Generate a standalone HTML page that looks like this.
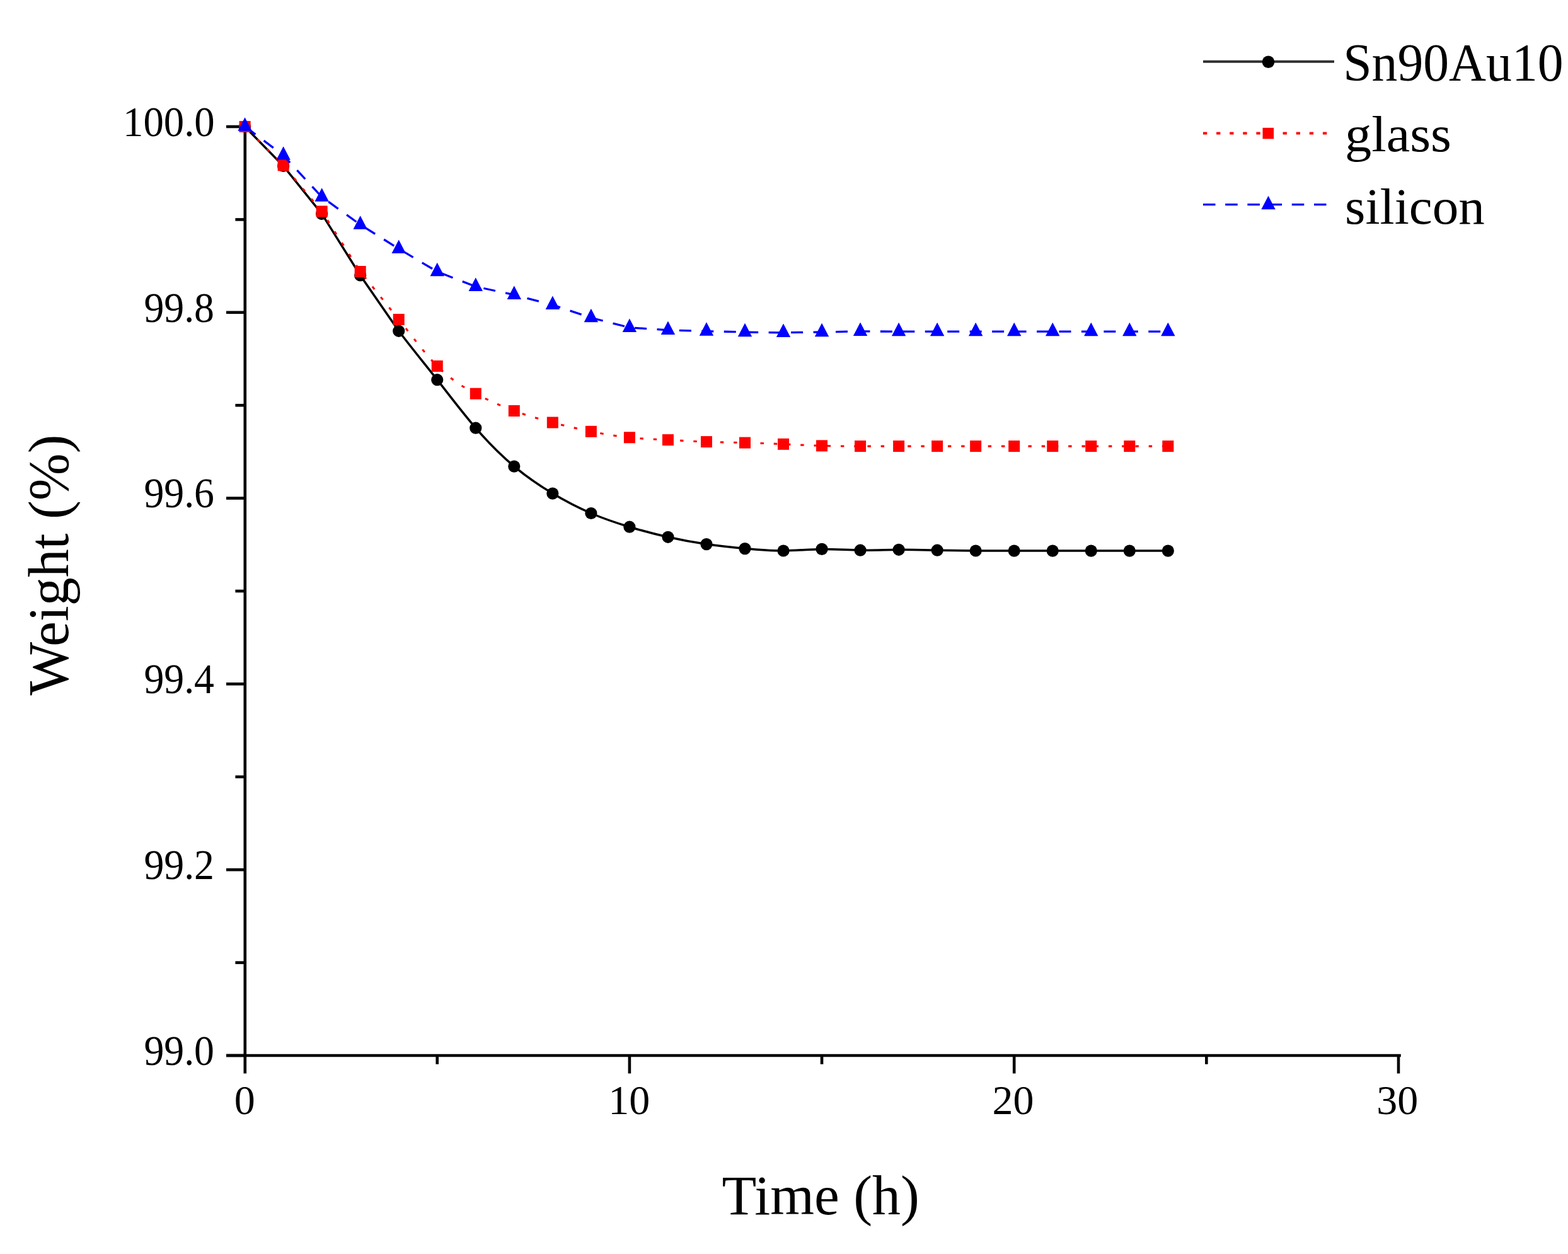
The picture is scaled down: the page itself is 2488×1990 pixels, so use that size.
<!DOCTYPE html>
<html><head><meta charset="utf-8"><title>Weight vs Time</title><style>html,body{margin:0;padding:0;background:#fff;}svg{display:block;}</style></head><body>
<svg width="2488" height="1990" viewBox="0 0 2488 1990">
<rect width="2488" height="1990" fill="#fff"/>
<g stroke="#000" stroke-width="4.6" fill="none" stroke-linecap="butt">
<path d="M388.8,198.7 V1703.5"/>
<path d="M359,1675.0 H2222.8"/>
<path d="M359,201.00 H388.8"/>
<path d="M359,495.80 H388.8"/>
<path d="M359,790.60 H388.8"/>
<path d="M359,1085.40 H388.8"/>
<path d="M359,1380.20 H388.8"/>
<path d="M359,1675.00 H388.8"/>
<path d="M373.4,348.40 H388.8"/>
<path d="M373.4,643.20 H388.8"/>
<path d="M373.4,938.00 H388.8"/>
<path d="M373.4,1232.80 H388.8"/>
<path d="M373.4,1527.60 H388.8"/>
<path d="M998.90,1675.0 V1703.5"/>
<path d="M1609.20,1675.0 V1703.5"/>
<path d="M2219.00,1675.0 V1703.5"/>
<path d="M693.75,1675.0 V1688.8"/>
<path d="M1304.05,1675.0 V1688.8"/>
<path d="M1914.35,1675.0 V1688.8"/>
</g>
<g font-family="'Liberation Serif', serif" font-size="67.3" fill="#000">
<text x="195" y="215.70" textLength="145.7" lengthAdjust="spacingAndGlyphs">100.0</text>
<text x="228.4" y="510.50" textLength="111.6" lengthAdjust="spacingAndGlyphs">99.8</text>
<text x="228.4" y="805.30" textLength="111.6" lengthAdjust="spacingAndGlyphs">99.6</text>
<text x="228.4" y="1100.10" textLength="111.6" lengthAdjust="spacingAndGlyphs">99.4</text>
<text x="228.4" y="1394.90" textLength="111.6" lengthAdjust="spacingAndGlyphs">99.2</text>
<text x="228.4" y="1689.70" textLength="111.6" lengthAdjust="spacingAndGlyphs">99.0</text>
</g>
<g font-family="'Liberation Serif', serif" font-size="66" fill="#000" text-anchor="middle">
<text x="388.30" y="1767.8">0</text>
<text x="998.30" y="1767.8">10</text>
<text x="1607.60" y="1767.8">20</text>
<text x="2217.30" y="1767.8">30</text>
</g>
<text font-family="'Liberation Serif', serif" font-size="89" x="1145.6" y="1927" textLength="313.2" lengthAdjust="spacingAndGlyphs">Time (h)</text>
<text font-family="'Liberation Serif', serif" font-size="91" transform="translate(107.5,1103.5) rotate(-90)" x="0" y="0" textLength="414" lengthAdjust="spacingAndGlyphs">Weight (%)</text>
<path d="M388.60,201.00 L449.63,263.50 L510.66,339.40 L571.69,437.00 L632.72,525.30 C653.06,552.19 673.41,576.85 693.75,602.70 C714.09,628.55 734.44,655.57 754.78,679.20 C775.12,702.83 795.47,723.08 815.81,740.10 C836.15,757.12 856.50,770.93 876.84,783.10 C897.18,795.27 917.53,805.80 937.87,814.50 C958.21,823.20 978.56,830.07 998.90,836.20 C1019.24,842.33 1039.59,847.72 1059.93,852.30 C1080.27,856.88 1100.62,860.65 1120.96,863.60 C1141.30,866.55 1161.65,868.68 1181.99,870.60 C1202.33,872.52 1222.68,874.22 1243.02,874.00 C1263.36,873.78 1283.71,871.63 1304.05,871.40 C1324.39,871.17 1344.74,872.87 1365.08,873.20 C1385.42,873.53 1405.77,872.49 1426.11,872.30 C1446.45,872.11 1466.80,872.76 1487.14,873.20 C1507.48,873.64 1527.83,873.89 1548.17,874.00 C1568.51,874.11 1588.86,874.10 1609.20,874.10 C1629.54,874.10 1649.89,874.10 1670.23,874.10 C1690.57,874.10 1710.92,874.10 1731.26,874.10 C1751.60,874.10 1771.95,874.10 1792.29,874.10 C1812.63,874.10 1832.98,874.10 1853.32,874.10" fill="none" stroke="#000" stroke-width="3.5"/>
<g fill="#000"><circle cx="388.60" cy="201.00" r="9.6"/><circle cx="449.63" cy="263.50" r="9.6"/><circle cx="510.66" cy="339.40" r="9.6"/><circle cx="571.69" cy="437.00" r="9.6"/><circle cx="632.72" cy="525.30" r="9.6"/><circle cx="693.75" cy="602.70" r="9.6"/><circle cx="754.78" cy="679.20" r="9.6"/><circle cx="815.81" cy="740.10" r="9.6"/><circle cx="876.84" cy="783.10" r="9.6"/><circle cx="937.87" cy="814.50" r="9.6"/><circle cx="998.90" cy="836.20" r="9.6"/><circle cx="1059.93" cy="852.30" r="9.6"/><circle cx="1120.96" cy="863.60" r="9.6"/><circle cx="1181.99" cy="870.60" r="9.6"/><circle cx="1243.02" cy="874.00" r="9.6"/><circle cx="1304.05" cy="871.40" r="9.6"/><circle cx="1365.08" cy="873.20" r="9.6"/><circle cx="1426.11" cy="872.30" r="9.6"/><circle cx="1487.14" cy="873.20" r="9.6"/><circle cx="1548.17" cy="874.00" r="9.6"/><circle cx="1609.20" cy="874.10" r="9.6"/><circle cx="1670.23" cy="874.10" r="9.6"/><circle cx="1731.26" cy="874.10" r="9.6"/><circle cx="1792.29" cy="874.10" r="9.6"/><circle cx="1853.32" cy="874.10" r="9.6"/></g>
<path d="M388.60,201.00 L449.63,262.40 L510.66,335.50 L571.69,431.00 L632.72,507.00 C653.06,532.08 673.41,560.54 693.75,581.00 C714.09,601.46 734.44,613.92 754.78,624.70 C775.12,635.48 795.47,644.57 815.81,652.00 C836.15,659.43 856.50,665.18 876.84,670.50 C897.18,675.82 917.53,680.69 937.87,684.80 C958.21,688.91 978.56,692.25 998.90,694.30 C1019.24,696.35 1039.59,697.10 1059.93,698.10 C1080.27,699.10 1100.62,700.35 1120.96,701.10 C1141.30,701.85 1161.65,702.09 1181.99,702.60 C1202.33,703.11 1222.68,703.87 1243.02,704.80 C1263.36,705.73 1283.71,706.81 1304.05,707.40 C1324.39,707.99 1344.74,708.07 1365.08,708.10 C1385.42,708.13 1405.77,708.11 1426.11,708.10 C1446.45,708.09 1466.80,708.10 1487.14,708.10 C1507.48,708.10 1527.83,708.10 1548.17,708.10 C1568.51,708.10 1588.86,708.10 1609.20,708.10 C1629.54,708.10 1649.89,708.10 1670.23,708.10 C1690.57,708.10 1710.92,708.10 1731.26,708.10 C1751.60,708.10 1771.95,708.10 1792.29,708.10 C1812.63,708.10 1832.98,708.10 1853.32,708.10" fill="none" stroke="#f00" stroke-width="3.1" stroke-dasharray="5.4 15.85" stroke-dashoffset="14.3"/>
<g fill="#f00"><rect x="379.60" y="192.00" width="18.0" height="18.0"/><rect x="440.63" y="253.40" width="18.0" height="18.0"/><rect x="501.66" y="326.50" width="18.0" height="18.0"/><rect x="562.69" y="422.00" width="18.0" height="18.0"/><rect x="623.72" y="498.00" width="18.0" height="18.0"/><rect x="684.75" y="572.00" width="18.0" height="18.0"/><rect x="745.78" y="615.70" width="18.0" height="18.0"/><rect x="806.81" y="643.00" width="18.0" height="18.0"/><rect x="867.84" y="661.50" width="18.0" height="18.0"/><rect x="928.87" y="675.80" width="18.0" height="18.0"/><rect x="989.90" y="685.30" width="18.0" height="18.0"/><rect x="1050.93" y="689.10" width="18.0" height="18.0"/><rect x="1111.96" y="692.10" width="18.0" height="18.0"/><rect x="1172.99" y="693.60" width="18.0" height="18.0"/><rect x="1234.02" y="695.80" width="18.0" height="18.0"/><rect x="1295.05" y="698.40" width="18.0" height="18.0"/><rect x="1356.08" y="699.10" width="18.0" height="18.0"/><rect x="1417.11" y="699.10" width="18.0" height="18.0"/><rect x="1478.14" y="699.10" width="18.0" height="18.0"/><rect x="1539.17" y="699.10" width="18.0" height="18.0"/><rect x="1600.20" y="699.10" width="18.0" height="18.0"/><rect x="1661.23" y="699.10" width="18.0" height="18.0"/><rect x="1722.26" y="699.10" width="18.0" height="18.0"/><rect x="1783.29" y="699.10" width="18.0" height="18.0"/><rect x="1844.32" y="699.10" width="18.0" height="18.0"/></g>
<path d="M388.60,200.50 L449.63,246.60 L510.66,312.60 L571.69,356.50 L632.72,394.80 L693.75,431.10 L754.78,454.80 L815.81,467.90 L876.84,483.80 L937.87,504.20 L998.90,519.80 L1059.93,523.90 L1120.96,525.60 L1181.99,527.00 L1243.02,527.90 L1304.05,527.00 L1365.08,525.80 L1426.11,526.20 L1487.14,526.20 L1548.17,526.20 L1609.20,526.20 L1670.23,526.20 L1731.26,526.20 L1792.29,526.20 L1853.32,526.20" fill="none" stroke="#00f" stroke-width="3.3" stroke-dasharray="19 16.45" stroke-dashoffset="33.3"/>
<g fill="#00f"><polygon points="388.60,186.17 399.80,207.67 377.40,207.67"/><polygon points="449.63,232.27 460.83,253.77 438.43,253.77"/><polygon points="510.66,298.27 521.86,319.77 499.46,319.77"/><polygon points="571.69,342.17 582.89,363.67 560.49,363.67"/><polygon points="632.72,380.47 643.92,401.97 621.52,401.97"/><polygon points="693.75,416.77 704.95,438.27 682.55,438.27"/><polygon points="754.78,440.47 765.98,461.97 743.58,461.97"/><polygon points="815.81,453.57 827.01,475.07 804.61,475.07"/><polygon points="876.84,469.47 888.04,490.97 865.64,490.97"/><polygon points="937.87,489.87 949.07,511.37 926.67,511.37"/><polygon points="998.90,505.47 1010.10,526.97 987.70,526.97"/><polygon points="1059.93,509.57 1071.13,531.07 1048.73,531.07"/><polygon points="1120.96,511.27 1132.16,532.77 1109.76,532.77"/><polygon points="1181.99,512.67 1193.19,534.17 1170.79,534.17"/><polygon points="1243.02,513.57 1254.22,535.07 1231.82,535.07"/><polygon points="1304.05,512.67 1315.25,534.17 1292.85,534.17"/><polygon points="1365.08,511.47 1376.28,532.97 1353.88,532.97"/><polygon points="1426.11,511.87 1437.31,533.37 1414.91,533.37"/><polygon points="1487.14,511.87 1498.34,533.37 1475.94,533.37"/><polygon points="1548.17,511.87 1559.37,533.37 1536.97,533.37"/><polygon points="1609.20,511.87 1620.40,533.37 1598.00,533.37"/><polygon points="1670.23,511.87 1681.43,533.37 1659.03,533.37"/><polygon points="1731.26,511.87 1742.46,533.37 1720.06,533.37"/><polygon points="1792.29,511.87 1803.49,533.37 1781.09,533.37"/><polygon points="1853.32,511.87 1864.52,533.37 1842.12,533.37"/></g>
<path d="M1909,97.7 H2117" stroke="#303030" stroke-width="3.9"/>
<circle cx="2012.5" cy="98.2" r="9.8" fill="#000"/>
<path d="M1909,211.6 H2117" stroke="#f00" stroke-width="4" stroke-dasharray="6.3 14.8"/>
<rect x="2003.5" y="202.8" width="17.6" height="17.6" fill="#f00"/>
<path d="M1909,324.7 H2117" stroke="#00f" stroke-width="3.3" stroke-dasharray="19.5 15.7"/>
<g fill="#00f"><polygon points="2012.50,310.87 2023.70,332.37 2001.30,332.37"/></g>
<text font-family="'Liberation Serif', serif" font-size="85.5" x="2131.2" y="128.4" textLength="349.4" lengthAdjust="spacingAndGlyphs">Sn90Au10</text>
<text font-family="'Liberation Serif', serif" font-size="81" x="2134" y="240" textLength="169" lengthAdjust="spacingAndGlyphs">glass</text>
<text font-family="'Liberation Serif', serif" font-size="81" x="2134" y="354.5" textLength="222" lengthAdjust="spacingAndGlyphs">silicon</text>
</svg>
</body></html>
